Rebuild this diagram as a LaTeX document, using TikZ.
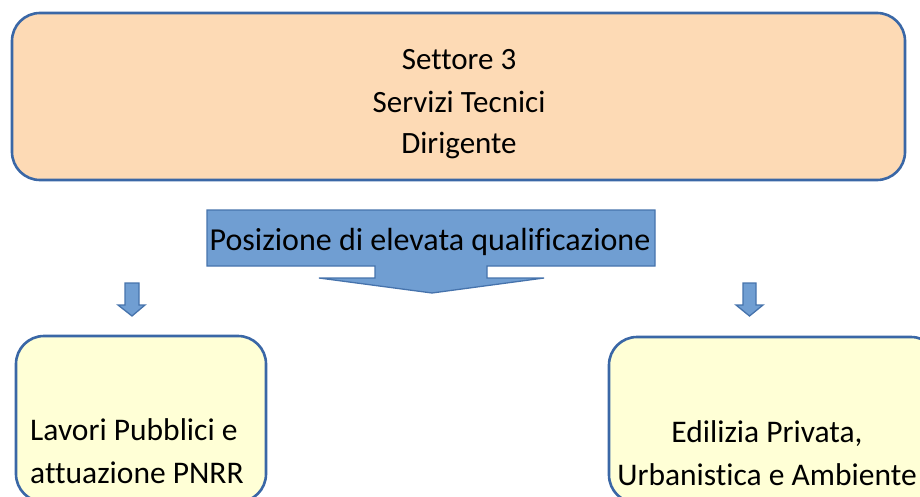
\documentclass[tikz,border=0pt]{standalone}
\usepackage{fontspec}
\setmainfont{Carlito}[RawFeature=-liga]
\definecolor{bordblue}{RGB}{58,103,166}
\definecolor{peach}{RGB}{253,218,181}
\definecolor{paleyel}{RGB}{255,255,214}
\definecolor{arrfill}{RGB}{112,158,210}
\definecolor{arrdraw}{RGB}{70,115,172}
\tikzset{
  rbox/.style={draw=bordblue, line width=2.6pt, rounded corners=28pt, inner sep=0pt},
  arrshape/.style={fill=arrfill, draw=arrdraw, line width=1.3pt, line join=miter},
  txt/.style={anchor=base, inner sep=0pt, text=black},
  topfont/.style={font=\fontsize{31}{37}\selectfont},
  botfont/.style={font=\fontsize{31.5}{37}\selectfont}
}
\begin{document}
\begin{tikzpicture}[x=1pt,y=-1pt]
\useasboundingbox (0,0) rectangle (920,497);
\begin{scope}
\clip (0,0) rectangle (920,497);
% top box
\node[rbox, fill=peach, minimum width=893pt, minimum height=167pt] (top) at (458.5,96.5) {};
\node[txt, topfont] (t1) at (459,70) {Settore 3};
\node[txt, topfont] (t2) at (459,113) {Servizi Tecnici};
\node[txt, topfont] (t3) at (459,154) {Dirigente};
% callout arrow
\draw[arrshape] (207,210) -- (655,210) -- (655,266) -- (487,266) -- (487,278)
  -- (544,278) -- (432,293) -- (319,278) -- (375,278) -- (375,266) -- (207,266) -- cycle;
\node[txt, font=\fontsize{32}{38}\selectfont] (pos) at (430,250) {Posizione di elevata qualificazione};
% small arrows
\draw[arrshape] (125,283) -- (139,283) -- (139,305) -- (145,305) -- (132,316) -- (118,305) -- (125,305) -- cycle;
\draw[arrshape] (743,283) -- (756,283) -- (756,305) -- (763,305) -- (749.5,316) -- (736,305) -- (743,305) -- cycle;
% bottom boxes
\node[rbox, fill=paleyel, minimum width=250pt, minimum height=166pt] (left) at (141,419) {};
\node[rbox, fill=paleyel, minimum width=330pt, minimum height=166pt] (right) at (774,420) {};
\node[txt, anchor=base west, botfont] (l1) at (30,440) {Lavori Pubblici e};
\node[txt, anchor=base west, botfont] (l2) at (30,483) {attuazione PNRR};
\node[txt, botfont] (r1) at (767,442) {Edilizia Privata,};
\node[txt, botfont] (r2) at (767,485) {Urbanistica e Ambiente};
\end{scope}
\end{tikzpicture}
\end{document}
